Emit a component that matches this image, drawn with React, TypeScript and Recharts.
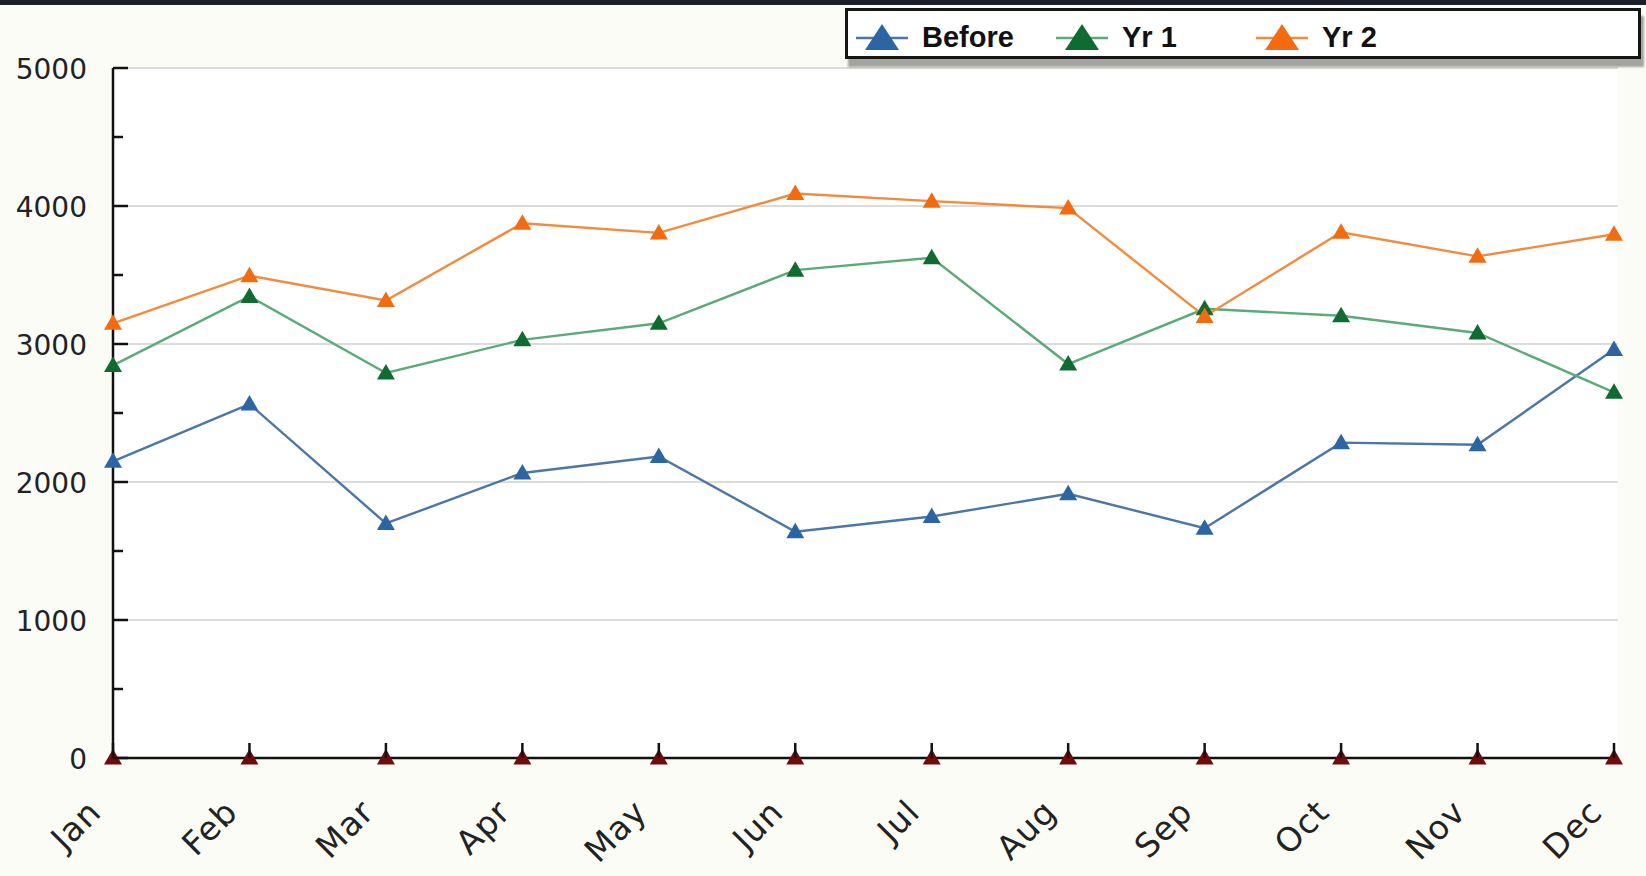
import { LineChart, Line, XAxis, YAxis, CartesianGrid, ReferenceLine, Legend } from 'recharts';

const months = ['Jan', 'Feb', 'Mar', 'Apr', 'May', 'Jun', 'Jul', 'Aug', 'Sep', 'Oct', 'Nov', 'Dec'];
const before = [2150, 2565, 1700, 2065, 2185, 1640, 1750, 1915, 1665, 2285, 2270, 2960];
const yr1 = [2845, 3345, 2790, 3030, 3150, 3535, 3625, 2855, 3255, 3205, 3080, 2650];
const yr2 = [3150, 3495, 3315, 3875, 3805, 4090, 4035, 3985, 3200, 3810, 3635, 3795];
const baseline = [0, 0, 0, 0, 0, 0, 0, 0, 0, 0, 0, 0];
const yTicks = [0, 500, 1000, 1500, 2000, 2500, 3000, 3500, 4000, 4500, 5000];
const gridValues = [1000, 2000, 3000, 4000, 5000];

const series = [
  { key: 'before', name: 'Before', line: '#4a76a8', marker: '#2d65a3' },
  { key: 'yr1', name: 'Yr 1', line: '#5aab78', marker: '#0f6b30' },
  { key: 'yr2', name: 'Yr 2', line: '#f58a3c', marker: '#f26b10' },
];

const data = months.map((m, i) => ({
  month: m,
  before: before[i],
  yr1: yr1[i],
  yr2: yr2[i],
  base: baseline[i],
}));

const axisFont = '"DejaVu Sans", Verdana, sans-serif';

// triangle marker used by every series
const triangle = (fill: string) => (props: any) => {
  const { cx, cy, index } = props;
  if (cx == null || cy == null) return <g key={index} />;
  return (
    <path
      key={index}
      d={`M${cx},${cy - 9} L${cx + 9},${cy + 6.5} L${cx - 9},${cy + 6.5} Z`}
      fill={fill}
    />
  );
};

const YTick = (props: any) => {
  const { x, y, payload } = props;
  const major = payload.value % 1000 === 0;
  return (
    <g>
      <line x1={x} x2={x + (major ? 15 : 10)} y1={y} y2={y} stroke="#111" strokeWidth={2.5} />
      {major && (
        <text x={x - 26} y={y} dy={11} textAnchor="end" fill="#222" fontSize={28} fontFamily={axisFont}>
          {payload.value}
        </text>
      )}
    </g>
  );
};

const XTick = (props: any) => {
  const { x, y, payload } = props;
  const ax = x - 10;
  const ay = y + 56;
  return (
    <g>
      <line x1={x} x2={x} y1={y} y2={y - 15} stroke="#111" strokeWidth={2.5} />
      <text
        x={ax}
        y={ay}
        textAnchor="end"
        fill="#222"
        fontSize={33}
        letterSpacing={1}
        fontFamily={axisFont}
        transform={`rotate(-45 ${ax} ${ay})`}
      >
        {payload.value}
      </text>
    </g>
  );
};

const LegendBox = () => (
  <div
    style={{
      boxSizing: 'border-box',
      height: 51,
      border: '3px solid #151515',
      background: '#ffffff',
      boxShadow: '3px 8px 2px rgba(90,90,90,0.55)',
      display: 'flex',
      alignItems: 'center',
      paddingLeft: 7,
      paddingTop: 7,
      fontFamily: '"Liberation Sans", Arial, sans-serif',
      fontWeight: 'bold',
      fontSize: 29,
      color: '#111',
    }}
  >
    {series.map((s) => (
      <div key={s.key} style={{ display: 'flex', alignItems: 'center', width: 200 }}>
        <svg width={54} height={30} style={{ marginRight: 13 }}>
          <line x1={1} x2={53} y1={16} y2={16} stroke={s.line} strokeWidth={2.5} />
          <path d="M27,2 L44,28 L10,28 Z" fill={s.marker} />
        </svg>
        <span>{s.name}</span>
      </div>
    ))}
  </div>
);

export default function App() {
  return (
    <div
      style={{
        position: 'absolute',
        left: 0,
        top: 0,
        width: 1646,
        height: 876,
        background: '#fcfcf6',
        overflow: 'hidden',
      }}
    >
      <div style={{ position: 'absolute', left: 0, top: 0, width: 1646, height: 5, background: '#1c2127', zIndex: 2 }} />
      <LineChart width={1646} height={876} data={data} margin={{ top: 68, right: 28, left: 0, bottom: 0 }}>
        <CartesianGrid horizontal={false} vertical={false} fill="#ffffff" />
        {gridValues.map((v) => (
          <ReferenceLine key={v} y={v} stroke="#dcdcdc" strokeWidth={2} ifOverflow="extendDomain" />
        ))}
        <XAxis
          dataKey="month"
          interval={0}
          tickSize={0}
          tickMargin={0}
          height={118}
          padding={{ left: 0, right: 4 }}
          axisLine={{ stroke: '#111', strokeWidth: 2.5 }}
          tickLine={false}
          tick={<XTick />}
        />
        <YAxis
          domain={[0, 5000]}
          ticks={yTicks}
          interval={0}
          tickSize={0}
          tickMargin={0}
          width={113}
          axisLine={{ stroke: '#111', strokeWidth: 2.5 }}
          tickLine={false}
          tick={<YTick />}
        />
        <Legend
          layout="horizontal"
          verticalAlign="middle"
          align="center"
          wrapperStyle={{ top: 8, left: 845, width: 796 }}
          content={<LegendBox />}
        />
        {series.map((s) => (
          <Line
            key={s.key}
            type="linear"
            dataKey={s.key}
            name={s.name}
            stroke={s.line}
            strokeWidth={2.4}
            dot={triangle(s.marker)}
            activeDot={false}
            isAnimationActive={false}
          />
        ))}
        <Line
          type="linear"
          dataKey="base"
          stroke="none"
          legendType="none"
          dot={triangle('#6e0b0b')}
          activeDot={false}
          isAnimationActive={false}
        />
      </LineChart>
    </div>
  );
}
